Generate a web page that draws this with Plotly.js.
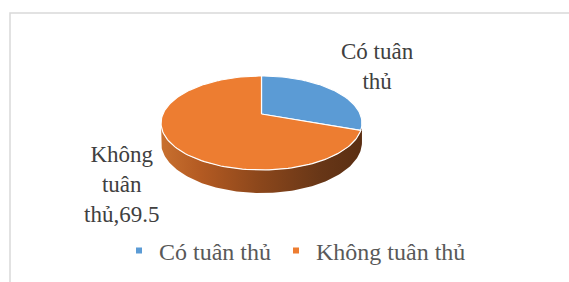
<!DOCTYPE html>
<html>
<head>
<meta charset="utf-8">
<script src="https://cdn.plot.ly/plotly-3.0.1.min.js"></script>
<style>html,body{margin:0;padding:0;background:#fff;}#chart{width:569px;height:282px;}</style>
</head>
<body>
<div id="chart"></div>
<script>
// ---- data ----
const categories = ['Có tuân thủ', 'Không tuân thủ'];
const values = [30.5, 69.5];
const colors = ['#5b9bd5', '#ed7d31'];
const labelTexts = ['Có tuân<br>thủ', 'Không<br>tuân<br>thủ,' + values[1]];

// ---- geometry (perspective 3D pie) ----
const W = 569, Hpx = 282;
const cx = 261.5, apexY = 114, R = 98.6, Hy = 45.28, k = 0.1915, D = 18.6;
function proj(theta) {
  const u = Math.sin(theta), v = Math.cos(theta);
  const w = 1 + k * v;
  return [cx + R * u / w, apexY - Hy * v / w, w];
}
const total = values.reduce((a, b) => a + b, 0);
const traces = [];

// side band (front half)
const ts = Math.acos(-k), te = 2 * Math.PI - ts;
const sx = [], sy = [];
const N = 120;
for (let i = 0; i <= N; i++) { const t = ts + (te - ts) * i / N; const p = proj(t); sx.push(p[0]); sy.push(p[1]); }
for (let i = N; i >= 0; i--) { const t = ts + (te - ts) * i / N; const p = proj(t); sx.push(p[0]); sy.push(p[1] + D / p[2]); }
traces.push({
  type: 'scatter', mode: 'lines', x: sx, y: sy, fill: 'toself',
  line: {width: 0, color: 'rgba(0,0,0,0)'},
  fillgradient: {type: 'horizontal', colorscale: [[0, '#c8702f'], [0.2, '#b35a22'], [0.5, '#8a461b'], [0.8, '#673617'], [1, '#5a2e12']]},
  showlegend: false, hoverinfo: 'skip'
});

// top face slices
let acc = 0;
values.forEach((val, i) => {
  const a0 = acc / total * 2 * Math.PI;
  acc += val;
  const a1 = acc / total * 2 * Math.PI;
  const xs = [cx], ys = [apexY];
  const n = Math.max(10, Math.round(200 * val / total));
  for (let j = 0; j <= n; j++) { const p = proj(a0 + (a1 - a0) * j / n); xs.push(p[0]); ys.push(p[1]); }
  xs.push(cx); ys.push(apexY);
  traces.push({
    type: 'scatter', mode: 'lines', x: xs, y: ys, fill: 'toself', fillcolor: colors[i],
    line: {width: 1.2, color: '#ffffff'}, showlegend: false, hoverinfo: 'skip', name: categories[i]
  });
});

// legend entries
categories.forEach((c, i) => {
  traces.push({type: 'scatter', mode: 'markers', x: [null], y: [null], name: c,
    marker: {symbol: 'square', size: 6, color: colors[i]}, showlegend: true, hoverinfo: 'skip'});
});

const font = 'Liberation Serif, Times New Roman, serif';
const layout = {
  width: W, height: Hpx,
  margin: {l: 0, r: 0, t: 0, b: 0},
  paper_bgcolor: '#ffffff', plot_bgcolor: '#ffffff',
  font: {family: font},
  xaxis: {range: [0, W], visible: false, fixedrange: true},
  yaxis: {range: [Hpx, 0], visible: false, fixedrange: true},
  showlegend: true,
  legend: {orientation: 'h', x: 119 / W, xanchor: 'left', y: 1 - 251 / Hpx, yanchor: 'middle',
    font: {family: font, size: 24, color: '#595959'}, bgcolor: 'rgba(0,0,0,0)', itemwidth: 30},
  shapes: [{type: 'rect', xref: 'x', yref: 'y', x0: 10, x1: 640, y0: 13, y1: 360,
    line: {color: '#d9d9d9', width: 1.5}, fillcolor: 'rgba(0,0,0,0)', layer: 'below'}],
  annotations: [
    {text: labelTexts[0], x: 377, y: 66, xref: 'x', yref: 'y', showarrow: false,
      font: {family: font, size: 23, color: '#404040'}, align: 'center'},
    {text: labelTexts[1], x: 121, y: 184, xref: 'x', yref: 'y', showarrow: false,
      font: {family: font, size: 23, color: '#404040'}, align: 'center'}
  ]
};
Plotly.newPlot('chart', traces, layout, {staticPlot: true, displayModeBar: false});
</script>
</body>
</html>
